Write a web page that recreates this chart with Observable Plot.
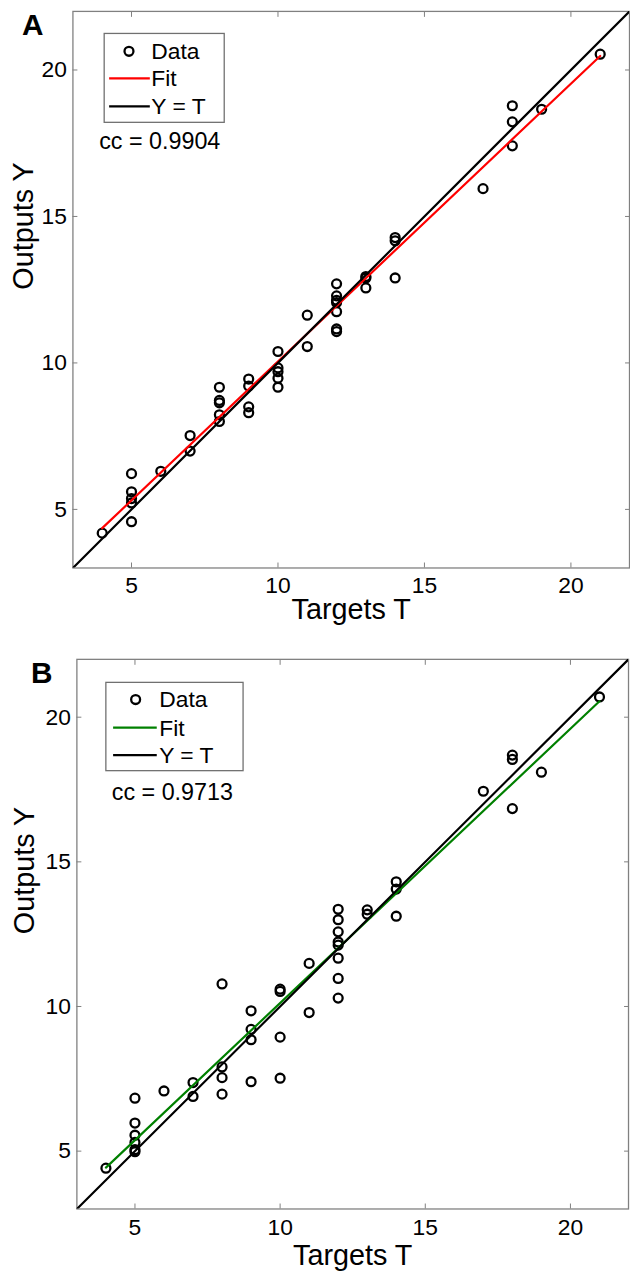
<!DOCTYPE html>
<html><head><meta charset="utf-8">
<script src="https://cdn.jsdelivr.net/npm/d3@7"></script>
<script src="https://cdn.jsdelivr.net/npm/@observablehq/plot@0.6"></script>
<style>
html,body{margin:0;padding:0;background:#fff;overflow:hidden;width:630px;height:1275px}
.panel{position:relative;width:630px;overflow:hidden}
svg{display:block}
</style></head><body>
<div id="A" class="panel" style="height:640px"></div>
<div id="B" class="panel" style="height:635px"></div>
<script>
// ---- data ----
const axisRange = [3, 22];
const tickValues = [5, 10, 15, 20];
const identityLine = [3, 22];

const targetsA = [4, 5,5,5,5,5, 6, 7,7, 8,8,8,8,8, 9,9,9,9, 10,10,10,10,10, 11,11,
  12,12,12,12,12,12,12, 13,13,13, 14,14,14, 17, 18,18,18, 19, 21];
const outputsA = [4.19, 6.22,5.60,5.37,5.22,4.58, 6.30, 7.52,6.99, 9.17,8.72,8.64,8.23,8.00,
  9.45,9.21,8.50,8.30, 10.39,9.83,9.70,9.48,9.17, 11.63,10.56,
  12.70,12.29,12.14,12.06,11.75,11.16,11.07, 12.95,12.90,12.56, 14.28,14.17,12.90,
  15.95, 18.78,18.23,17.41, 18.66, 20.54];
const fitTargetsA = [4, 21];
const fitOutputsA = [4.36, 20.48];
const ccA = "cc = 0.9904";

const targetsB = [4, 5,5,5,5,5,5, 6, 7,7, 8,8,8,8, 9,9,9,9, 10,10,10,10, 11,11,
  12,12,12,12,12,12,12,12, 13,13, 14,14,14, 17, 18,18,18, 19, 21];
const outputsB = [4.41, 6.83,5.97,5.55,5.30,5.05,4.98, 7.08, 7.37,6.89, 10.78,7.91,7.54,6.97,
  9.85,9.21,8.85,7.40, 10.60,10.52,8.94,7.52, 11.49,9.79,
  13.36,13.00,12.58,12.23,12.12,11.67,10.97,10.29, 13.34,13.19, 14.31,14.06,13.12,
  17.44, 18.69,18.54,16.84, 18.10, 20.70];
const fitTargetsB = [4, 21];
const fitOutputsB = [4.43, 20.55];
const ccB = "cc = 0.9713";

const legendLabels = ["Data", "Fit", "Y = T"];
const FONT = "'Liberation Sans', Arial, sans-serif";
const GRAY = "#808080";

function makePanel(cfg) {
  const pts = cfg.T.map((t, i) => ({t, y: cfg.Y[i]}));
  const fit = cfg.fitT.map((t, i) => ({t, y: cfg.fitY[i]}));
  const ident = identityLine.map(v => ({t: v, y: v}));
  const svg = Plot.plot({
    width: 635, height: cfg.height,
    marginLeft: cfg.mL, marginRight: cfg.mR, marginTop: cfg.mT, marginBottom: cfg.mB,
    x: {domain: axisRange},
    y: {domain: axisRange},
    style: {fontFamily: FONT, color: "#000", background: "#fff", overflow: "visible"},
    marks: [
      Plot.axisX(tickValues, {anchor: "bottom", tickSize: 5, dy: -5, tickFormat: () => "", color: GRAY, label: null}),
      Plot.axisX(tickValues, {anchor: "top", tickSize: 5, dy: 5, tickFormat: () => "", color: GRAY, label: null}),
      Plot.axisY(tickValues, {anchor: "left", tickSize: 5, dx: 5, tickFormat: () => "", color: GRAY, label: null}),
      Plot.axisY(tickValues, {anchor: "right", tickSize: 5, dx: -5, tickFormat: () => "", color: GRAY, label: null}),
      Plot.axisX(tickValues, {anchor: "bottom", tickSize: 0, tickPadding: cfg.xPad, fontSize: 23, color: "#000", label: null}),
      Plot.axisY(tickValues, {anchor: "left", tickSize: 0, tickPadding: cfg.yPad, fontSize: 23, color: "#000", label: null}),
      Plot.frame({stroke: GRAY, strokeWidth: 1.3}),
      Plot.text(["Targets T"], {frameAnchor: "bottom", dy: cfg.xLabDy, fontSize: 29, lineAnchor: "middle", fill: "#000"}),
      Plot.text(["Outputs Y"], {frameAnchor: "left", dx: cfg.yLabDx, rotate: -90, fontSize: 29, lineAnchor: "middle", fill: "#000"}),
      Plot.dot(pts, {x: "t", y: "y", r: 4.5, stroke: "#000", strokeWidth: 2.3, fill: "none"}),
      Plot.line(fit, {x: "t", y: "y", stroke: cfg.fitColor, strokeWidth: 2.2}),
      Plot.line(ident, {x: "t", y: "y", stroke: "#000", strokeWidth: 2.2, clip: true})
    ]
  });
  const s = d3.select(svg);
  // panel letter
  s.append("text").attr("x", cfg.letter[1]).attr("y", cfg.letter[2])
    .attr("text-anchor", "middle").attr("font-family", FONT).attr("font-weight", "bold")
    .attr("font-size", 30).attr("fill", "#000").text(cfg.letter[0]);
  // legend
  const L = cfg.legend;
  s.append("rect").attr("x", L.x).attr("y", L.y).attr("width", L.w).attr("height", L.h)
    .attr("fill", "#fff").attr("stroke", "#707070").attr("stroke-width", 1.3);
  s.append("circle").attr("cx", L.cx).attr("cy", L.rows[0]).attr("r", 4.5)
    .attr("fill", "none").attr("stroke", "#000").attr("stroke-width", 2.3);
  const lineCols = [null, cfg.fitColor, "#000"];
  legendLabels.forEach((lab, i) => {
    if (lineCols[i]) s.append("line").attr("x1", L.lx1).attr("x2", L.lx2)
      .attr("y1", L.rows[i]).attr("y2", L.rows[i]).attr("stroke", lineCols[i]).attr("stroke-width", 2.2);
    s.append("text").attr("x", L.tx).attr("y", L.rows[i] + 8).attr("font-family", FONT)
      .attr("text-anchor", "start")
      .attr("font-size", 23).attr("fill", "#000").text(lab);
  });
  s.append("text").attr("x", L.ccx).attr("y", L.ccy + 8).attr("font-family", FONT)
    .attr("text-anchor", "start")
    .attr("font-size", 23.5).attr("fill", "#000").text(cfg.cc);
  document.getElementById(cfg.id).appendChild(svg);
}

makePanel({
  id: "A", T: targetsA, Y: outputsA, fitT: fitTargetsA, fitY: fitOutputsA, fitColor: "#ff0000", cc: ccA,
  height: 640, mL: 73, mR: 1, mT: 11, mB: 68, xPad: 9, yPad: 6, xLabDy: 42, yLabDx: -50,
  letter: ["A", 33, 35],
  legend: {x: 105, y: 33.7, w: 121, h: 89.6, cx: 130, rows: [51.7, 79, 107.3], lx1: 110, lx2: 151, tx: 152.5, ccx: 100, ccy: 141.7}
});
makePanel({
  id: "B", T: targetsB, Y: outputsB, fitT: fitTargetsB, fitY: fitOutputsB, fitColor: "#008000", cc: ccB,
  height: 635, mL: 77, mR: 2, mT: 19, mB: 62, xPad: 10, yPad: 6, xLabDy: 47, yLabDx: -53,
  letter: ["B", 42, 43],
  legend: {x: 106.7, y: 42.7, w: 138.3, h: 89, cx: 136.7, rows: [60, 88.3, 116], lx1: 114, lx2: 158, tx: 160.5, ccx: 112.7, ccy: 153.3}
});
</script>
</body></html>
